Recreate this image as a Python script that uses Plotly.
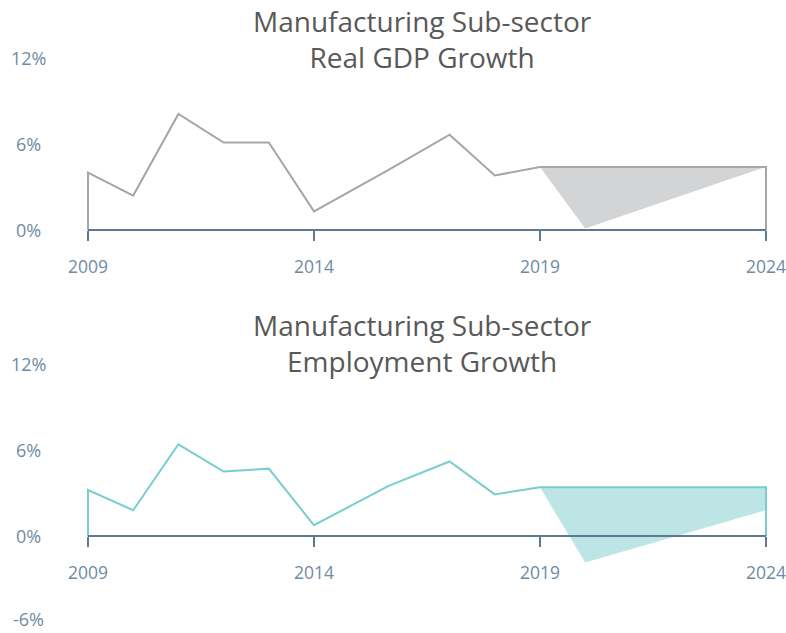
import plotly.graph_objects as go

# ---- data -------------------------------------------------------------
hist_years = [2009, 2010, 2011, 2012, 2013, 2014, 2015.65, 2017, 2018, 2019]
gdp_growth = [4.0, 2.4, 8.1, 6.1, 6.1, 1.3, 4.2, 6.65, 3.8, 4.4]
emp_growth = [3.2, 1.8, 6.4, 4.5, 4.7, 0.75, 3.5, 5.2, 2.9, 3.4]

forecast_years = [2019, 2020, 2024]
gdp_upper = [4.4, 4.4, 4.4]
gdp_lower = [4.4, 0.1, 4.4]
emp_upper = [3.4, 3.4, 3.4]
emp_lower = [3.4, -1.85, 1.8]

x_ticks = [2009, 2014, 2019, 2024]
top_y_ticks = [0, 6, 12]
bottom_y_ticks = [-6, 0, 6, 12]

titles = ["Manufacturing Sub-sector<br>Real GDP Growth",
          "Manufacturing Sub-sector<br>Employment Growth"]

# ---- styling ----------------------------------------------------------
W, H = 786, 633
FONT = "Open Sans"
AXIS_COLOR = "#5d7a92"
LABEL_COLOR = "#6e8ba4"
TITLE_COLOR = "#595959"
GREY_LINE, GREY_FILL = "#a6a6a8", "#d3d4d6"
TEAL_LINE, TEAL_FILL = "#78cdce", "#bde5e6"

# pixel geometry of the two panels
X_LO, X_HI = 2008.7, 2024.3
PX_PER_YEAR = 678 / 15
x0_px = 88 - (2009 - X_LO) * PX_PER_YEAR
x1_px = 766 + (X_HI - 2024) * PX_PER_YEAR
PX_PER_PCT = 86 / 6


def py(px):
    return (H - px) / H


def y_domain(zero_px, lo, hi):
    top_px = zero_px - hi * PX_PER_PCT
    bot_px = zero_px - lo * PX_PER_PCT
    return [py(bot_px), py(top_px)]


panels = [
    dict(zero_px=230, yr=[-0.6, 12.6], yt=top_y_ticks, vals=gdp_growth,
         up=gdp_upper, lo=gdp_lower, line=GREY_LINE, fill=GREY_FILL,
         title=titles[0], title_px=39),
    dict(zero_px=536, yr=[-6.6, 12.6], yt=bottom_y_ticks, vals=emp_growth,
         up=emp_upper, lo=emp_lower, line=TEAL_LINE, fill=TEAL_FILL,
         title=titles[1], title_px=343),
]

fig = go.Figure()
annotations = []
shapes = []

for i, p in enumerate(panels, start=1):
    xa = "x" if i == 1 else f"x{i}"
    ya = "y" if i == 1 else f"y{i}"

    # forecast band between the upper and lower scenarios
    fig.add_trace(go.Scatter(x=forecast_years, y=p["up"], mode="lines",
                             line=dict(width=0, color=p["fill"]),
                             hoverinfo="skip", showlegend=False,
                             xaxis=xa, yaxis=ya))
    fig.add_trace(go.Scatter(x=forecast_years, y=p["lo"], mode="lines",
                             line=dict(width=0, color=p["fill"]),
                             fill="tonexty", fillcolor=p["fill"],
                             hoverinfo="skip", showlegend=False,
                             xaxis=xa, yaxis=ya))

    # history line, carried along the upper scenario and closed to zero
    lx = [hist_years[0]] + hist_years + [forecast_years[-1], forecast_years[-1]]
    ly = [0] + p["vals"] + [p["up"][-1], 0]
    fig.add_trace(go.Scatter(x=lx, y=ly, mode="lines",
                             line=dict(width=2, color=p["line"]),
                             showlegend=False, xaxis=xa, yaxis=ya))

    # baseline axis from first to last tick
    shapes.append(dict(type="line", xref=xa, yref=ya,
                       x0=x_ticks[0], x1=x_ticks[-1], y0=0, y1=0,
                       line=dict(color=AXIS_COLOR, width=2), layer="above"))

    # percentage labels, centred in the left gutter
    lowest = min(p["yt"])
    for v in p["yt"]:
        annotations.append(dict(x=28 / W, xref="paper", y=v, yref=ya,
                                text=f"{v}%", showarrow=False,
                                xanchor="center", yanchor="middle",
                                borderpad=0,
                                yshift=3 if (v < 0 and v == lowest) else 0,
                                font=dict(family=FONT, size=18,
                                          color=LABEL_COLOR)))

    annotations.append(dict(x=423 / W, xref="paper", y=py(p["title_px"]),
                            yref="paper", text=p["title"],
                            showarrow=False, borderpad=0,
                            xanchor="center", yanchor="middle",
                            font=dict(family=FONT, size=28,
                                      color=TITLE_COLOR)))

    xaxis = dict(domain=[x0_px / W, x1_px / W], range=[X_LO, X_HI],
                 anchor="free", position=py(p["zero_px"]),
                 automargin=False, ticklabeloverflow="allow",
                 showline=False, showgrid=False, zeroline=False,
                 tickmode="array", tickvals=x_ticks,
                 ticktext=[str(t) for t in x_ticks],
                 ticks="outside", ticklen=10, tickwidth=2,
                 tickcolor=AXIS_COLOR, ticklabelstandoff=11,
                 tickfont=dict(family=FONT, size=17.5, color=LABEL_COLOR))
    yaxis = dict(domain=y_domain(p["zero_px"], *p["yr"]), range=p["yr"],
                 anchor=xa, automargin=False,
                 showline=False, showgrid=False, zeroline=False,
                 showticklabels=False, ticks="")
    fig.update_layout(**{("xaxis" if i == 1 else f"xaxis{i}"): xaxis,
                         ("yaxis" if i == 1 else f"yaxis{i}"): yaxis})

fig.update_layout(width=W, height=H, margin=dict(l=0, r=0, t=0, b=0),
                  paper_bgcolor="white", plot_bgcolor="white",
                  annotations=annotations, shapes=shapes,
                  font=dict(family=FONT))

fig.write_html("out.html")
